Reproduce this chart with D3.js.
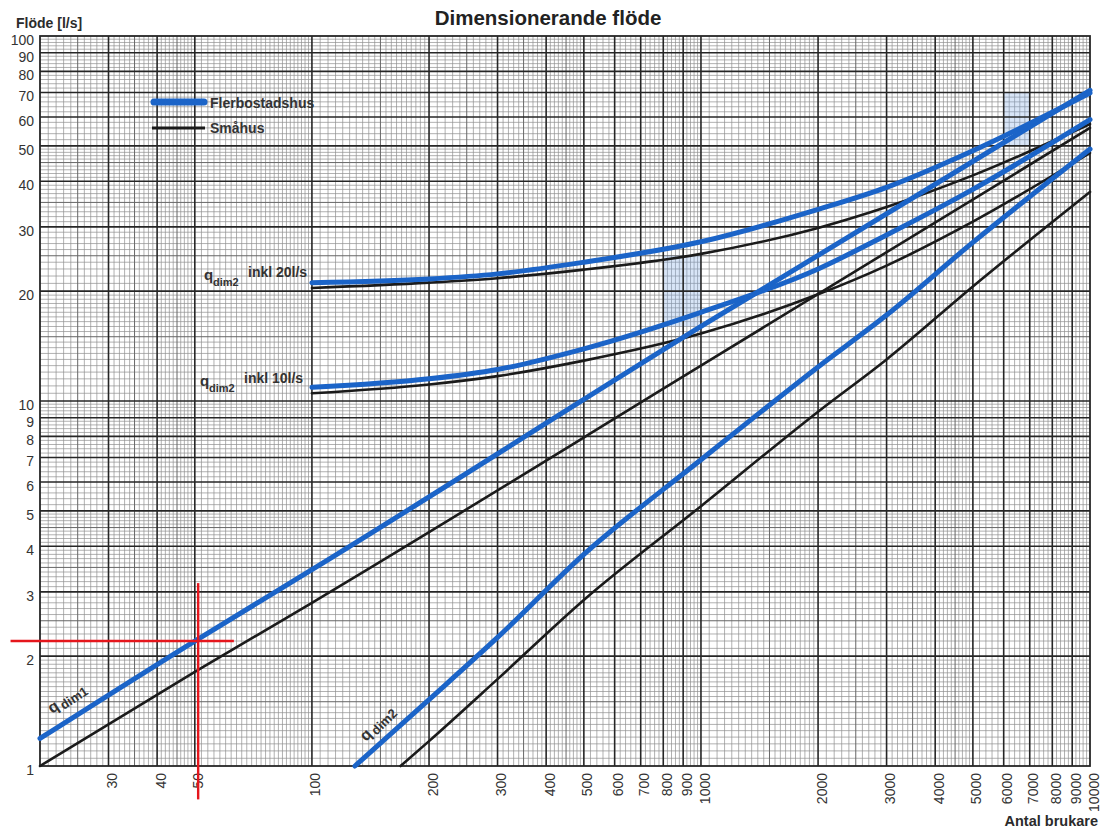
<!DOCTYPE html>
<html>
<head>
<meta charset="utf-8">
<title>Dimensionerande flöde</title>
<script src="https://cdn.jsdelivr.net/npm/d3@7"></script>
<style>
  body { margin: 0; background: #fff; }
  svg { display: block; }
  text { font-family: "Liberation Sans", Arial, Helvetica, sans-serif; }
</style>
</head>
<body>
<svg id="chart" width="1111" height="832"></svg>
<script>
// ---- Data: number of users (Antal brukare) and dimensioning flow [l/s] ----
// Flerbostadshus (blue)
const flerDim1N = [20, 50, 100, 1000, 10000];
const flerDim1Q = [1.19, 2.2, 3.45, 16, 71];
const flerDim2N = [129, 200, 300, 500, 1000, 2000, 3000, 5000, 10000];
const flerDim2Q = [1.0, 1.52, 2.25, 3.8, 6.9, 12.4, 17.2, 27.2, 49];
const flerInkl20N = [100, 200, 300, 500, 1000, 2000, 3000, 5000, 10000];
const flerInkl20Q = [21.1, 21.6, 22.3, 24.0, 27.3, 33.5, 38.5, 48.5, 69.8];
const flerInkl10N = [100, 200, 300, 500, 1000, 2000, 3000, 5000, 10000];
const flerInkl10Q = [10.9, 11.5, 12.2, 13.9, 17.5, 23.0, 28.5, 38.0, 59];

// Småhus (black)
const smaDim1N = [20, 50, 100, 1000, 10000];
const smaDim1Q = [1.0, 1.81, 2.8, 12.5, 56];
const smaDim2N = [169, 200, 300, 500, 1000, 2000, 3000, 5000, 10000];
const smaDim2Q = [1.0, 1.17, 1.73, 2.85, 5.15, 9.35, 13.0, 20.6, 37.4];
const smaInkl20N = [100, 200, 300, 500, 1000, 2000, 3000, 5000, 10000];
const smaInkl20Q = [20.4, 21.1, 21.7, 22.9, 25.3, 29.8, 34.0, 41.5, 57.4];
const smaInkl10N = [100, 200, 300, 500, 1000, 2000, 3000, 5000, 10000];
const smaInkl10Q = [10.5, 11.1, 11.7, 12.9, 15.3, 19.6, 23.5, 31.0, 47.8];

// Axis ticks
const xTickValues = [30, 40, 50, 100, 200, 300, 400, 500, 600, 700, 800, 900,
                     1000, 2000, 3000, 4000, 5000, 6000, 7000, 8000, 9000, 10000];
const yTickValues = [1, 2, 3, 4, 5, 6, 7, 8, 9, 10, 20, 30, 40, 50, 60, 70, 80, 90, 100];

// Shaded reading areas [n0, n1, q0, q1]
const shadeAreas = [[800, 1000, 16, 25], [6000, 7000, 50, 70]];

// Reading example: 51 users -> 2.2 l/s, with the extent of the red guide lines
const readN = 51, readQ = 2.2;
const readNSpan = [16.8, 63];
const readQSpan = [3.17, 0.81];

// ---- Layout ----
const plot = { left: 40, right: 1090, top: 36, bottom: 766 };

const x = d3.scaleLog().domain([20, 10000]).range([plot.left, plot.right]);
const y = d3.scaleLog().domain([1, 100]).range([plot.bottom, plot.top]);

const svg = d3.select("#chart");

// ---- Log paper grid ----
function paperValues(lo, hi) {
  const out = { fine: [], medium: [] };
  for (const d of [1, 10, 100, 1000]) {
    for (let k = 100; k < 1000;) {
      const v = k * d / 100;
      if (v > lo && v < hi) {
        if (k % 100 === 50 && k < 500) out.medium.push(v);
        else if (k % 100 !== 0) out.fine.push(v);
      }
      k += k < 200 ? 5 : (k < 500 ? 10 : 20);
    }
  }
  return out;
}
const xPaper = paperValues(20, 10000);
const yPaper = paperValues(1, 100);
// in the first x decade only 30, 40 and 50 are heavy lines
const xFirstDecadeLight = [60, 70, 80, 90];

const gGrid = svg.append("g");
gGrid.selectAll("line.xf").data(xPaper.fine.concat(xFirstDecadeLight)).join("line")
  .attr("x1", d => x(d)).attr("x2", d => x(d))
  .attr("y1", plot.top).attr("y2", plot.bottom)
  .attr("stroke", "#8f8f8f").attr("stroke-width", 0.7);
gGrid.selectAll("line.yf").data(yPaper.fine).join("line")
  .attr("y1", d => y(d)).attr("y2", d => y(d))
  .attr("x1", plot.left).attr("x2", plot.right)
  .attr("stroke", "#8f8f8f").attr("stroke-width", 0.7);
gGrid.selectAll("line.xm").data(xPaper.medium).join("line")
  .attr("x1", d => x(d)).attr("x2", d => x(d))
  .attr("y1", plot.top).attr("y2", plot.bottom)
  .attr("stroke", "#666").attr("stroke-width", 1);
gGrid.selectAll("line.ym").data(yPaper.medium).join("line")
  .attr("y1", d => y(d)).attr("y2", d => y(d))
  .attr("x1", plot.left).attr("x2", plot.right)
  .attr("stroke", "#666").attr("stroke-width", 1);

// shaded areas sit on the paper, under the heavy lines
svg.append("g").selectAll("rect").data(shadeAreas).join("rect")
  .attr("x", d => x(d[0])).attr("width", d => x(d[1]) - x(d[0]))
  .attr("y", d => y(d[3])).attr("height", d => y(d[2]) - y(d[3]))
  .attr("fill", "#7fa9e6").attr("fill-opacity", 0.3);

const gMajor = svg.append("g");
gMajor.selectAll("line.xM").data(xTickValues.filter(v => v < 10000)).join("line")
  .attr("x1", d => x(d)).attr("x2", d => x(d))
  .attr("y1", plot.top).attr("y2", plot.bottom)
  .attr("stroke", "#262626").attr("stroke-width", 1.6);
gMajor.selectAll("line.yM").data(yTickValues.filter(v => v > 1 && v < 100)).join("line")
  .attr("y1", d => y(d)).attr("y2", d => y(d))
  .attr("x1", plot.left).attr("x2", plot.right)
  .attr("stroke", "#262626").attr("stroke-width", 1.6);
svg.append("rect")
  .attr("x", plot.left).attr("y", plot.top)
  .attr("width", plot.right - plot.left).attr("height", plot.bottom - plot.top)
  .attr("fill", "none").attr("stroke", "#262626").attr("stroke-width", 1.8);

// ---- Axes (labels only, via d3 axes) ----
const yAxis = d3.axisLeft(y).tickValues(yTickValues).tickFormat(d3.format("d")).tickSize(0).tickPadding(6);
const gy = svg.append("g").attr("transform", `translate(${plot.left},0)`).call(yAxis);
gy.select(".domain").remove();
gy.selectAll("text")
  .attr("font-family", "Liberation Sans, Arial, sans-serif")
  .attr("font-size", 14).attr("fill", "#333").attr("dy", "0.6em");

const xAxis = d3.axisBottom(x).tickValues(xTickValues).tickFormat(d3.format("d")).tickSize(0);
const gx = svg.append("g").attr("transform", `translate(0,${plot.bottom})`).call(xAxis);
gx.select(".domain").remove();
gx.selectAll("text")
  .attr("font-family", "Liberation Sans, Arial, sans-serif")
  .attr("font-size", 14).attr("fill", "#333")
  .attr("text-anchor", "end")
  .attr("transform", "translate(3,7) rotate(-90)")
  .attr("x", 0).attr("y", 0).attr("dy", "0.36em");

// ---- Curves ----
const line = d3.line().x(d => x(d[0])).y(d => y(d[1])).curve(d3.curveMonotoneX);
const zip = (n, q) => n.map((v, i) => [v, q[i]]);
const BLUE = "#1b64c8", BLACK = "#1b1b1b";
const series = [
  { n: smaDim1N, q: smaDim1Q, c: BLACK, w: 2.6 },
  { n: smaDim2N, q: smaDim2Q, c: BLACK, w: 2.6 },
  { n: smaInkl20N, q: smaInkl20Q, c: BLACK, w: 2.6 },
  { n: smaInkl10N, q: smaInkl10Q, c: BLACK, w: 2.6 },
  { n: flerDim1N, q: flerDim1Q, c: BLUE, w: 5 },
  { n: flerDim2N, q: flerDim2Q, c: BLUE, w: 5 },
  { n: flerInkl20N, q: flerInkl20Q, c: BLUE, w: 5 },
  { n: flerInkl10N, q: flerInkl10Q, c: BLUE, w: 5 }
];
svg.append("g").selectAll("path").data(series).join("path")
  .attr("d", s => line(zip(s.n, s.q)))
  .attr("fill", "none").attr("stroke", s => s.c).attr("stroke-width", s => s.w)
  .attr("stroke-linecap", "round").attr("stroke-linejoin", "round");

// ---- Red reading guide ----
const gRead = svg.append("g").attr("stroke", "#e5161c").attr("stroke-width", 2.4);
gRead.append("line")
  .attr("x1", x(readNSpan[0])).attr("x2", x(readNSpan[1]))
  .attr("y1", y(readQ)).attr("y2", y(readQ));
gRead.append("line")
  .attr("x1", x(readN)).attr("x2", x(readN))
  .attr("y1", y(readQSpan[0])).attr("y2", y(readQSpan[1]));

// ---- Texts ----
const ink = "#2b2b2b";
svg.append("text").attr("x", 548).attr("y", 25).attr("text-anchor", "middle")
  .attr("font-size", 20.5).attr("font-weight", "bold").attr("fill", "#222")
  .text("Dimensionerande flöde");
svg.append("text").attr("x", 16).attr("y", 28)
  .attr("font-size", 14).attr("font-weight", "bold").attr("fill", ink)
  .text("Flöde [l/s]");
svg.append("text").attr("x", 1098).attr("y", 826).attr("text-anchor", "end")
  .attr("font-size", 14.5).attr("font-weight", "bold").attr("fill", ink)
  .text("Antal brukare");

// legend
const legend = svg.append("g");
legend.append("line").attr("x1", 154).attr("x2", 204).attr("y1", 102).attr("y2", 102)
  .attr("stroke", BLUE).attr("stroke-width", 7).attr("stroke-linecap", "round");
legend.append("line").attr("x1", 152).attr("x2", 205).attr("y1", 128).attr("y2", 128)
  .attr("stroke", BLACK).attr("stroke-width", 3);
legend.append("text").attr("x", 210).attr("y", 108)
  .attr("font-size", 14).attr("font-weight", "bold").attr("fill", "#333").text("Flerbostadshus");
legend.append("text").attr("x", 210).attr("y", 133)
  .attr("font-size", 14).attr("font-weight", "bold").attr("fill", "#333").text("Småhus");

// curve labels
function qLabel(px, py, sub, rest) {
  const g = svg.append("g").attr("fill", "#333").attr("font-weight", "bold");
  g.append("text").attr("x", px).attr("y", py).attr("font-size", 15).text("q");
  g.append("text").attr("x", px + 9).attr("y", py + 6).attr("font-size", 11).text(sub);
  g.append("text").attr("x", px + 44).attr("y", py - 3).attr("font-size", 14).text(rest);
}
qLabel(204, 280, "dim2", "inkl 20l/s");
qLabel(200, 386, "dim2", "inkl 10l/s");

function qRotated(px, py, angle, sub) {
  const g = svg.append("g").attr("transform", `translate(${px},${py}) rotate(${angle})`)
    .attr("fill", "#333").attr("font-weight", "bold");
  g.append("text").attr("x", 0).attr("y", 0).attr("font-size", 16).text("q");
  g.append("text").attr("x", 12).attr("y", 3).attr("font-size", 13).text(sub);
}
qRotated(52, 714, -33, "dim1");
qRotated(366, 742, -45, "dim2");
</script>
</body>
</html>
